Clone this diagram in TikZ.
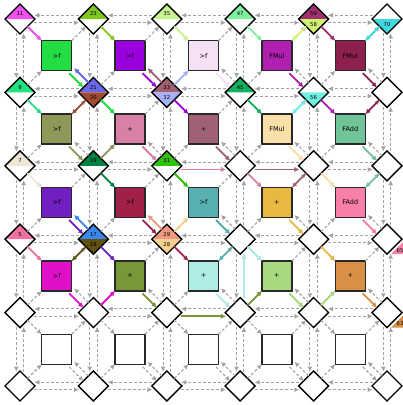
\documentclass[tikz,border=0pt]{standalone}
\usepackage{fontspec}
\setmainfont{DejaVu Sans}
\usetikzlibrary{shapes.geometric,arrows.meta,calc}
\definecolor{glc}{HTML}{A3A3A3}
\definecolor{edge}{HTML}{282828}
% PE colours
\definecolor{q00}{HTML}{22DD44}\definecolor{q10}{HTML}{9900DD}\definecolor{q20}{HTML}{F5E1F5}
\definecolor{q30}{HTML}{B020B0}\definecolor{q40}{HTML}{8E2050}
\definecolor{q01}{HTML}{8E9858}\definecolor{q11}{HTML}{D880A8}\definecolor{q21}{HTML}{A06078}
\definecolor{q31}{HTML}{F8E0A8}\definecolor{q41}{HTML}{70C498}
\definecolor{q02}{HTML}{7020C0}\definecolor{q12}{HTML}{A02048}\definecolor{q22}{HTML}{58B0B0}
\definecolor{q32}{HTML}{E8B840}\definecolor{q42}{HTML}{F880A8}
\definecolor{q03}{HTML}{E010C8}\definecolor{q13}{HTML}{789838}\definecolor{q23}{HTML}{B0ECE6}
\definecolor{q33}{HTML}{A8D880}\definecolor{q43}{HTML}{D89048}
% switch label colours
\definecolor{c11}{HTML}{F050F0}\definecolor{c23}{HTML}{80C820}\definecolor{c35}{HTML}{C8F490}
\definecolor{c47}{HTML}{80F0A0}\definecolor{c59}{HTML}{A03070}\definecolor{c58}{HTML}{D0F070}
\definecolor{c70}{HTML}{40D8E0}\definecolor{c9}{HTML}{20E080}\definecolor{c21}{HTML}{6868E8}
\definecolor{c20}{HTML}{A04A30}\definecolor{c33}{HTML}{A06070}\definecolor{c32}{HTML}{A8B0F8}
\definecolor{c45}{HTML}{10B060}\definecolor{c56}{HTML}{70F0E0}\definecolor{c7}{HTML}{F0E6D8}
\definecolor{c19}{HTML}{008040}\definecolor{c31}{HTML}{30C010}\definecolor{c5}{HTML}{F070A0}
\definecolor{c17}{HTML}{3888F0}\definecolor{c16}{HTML}{605010}\definecolor{c29}{HTML}{F09880}
\definecolor{c28}{HTML}{F8D090}
\tikzset{
  sw/.style={diamond, minimum width=30pt, minimum height=30pt, inner sep=0pt, outer sep=0pt, fill=white},
  pe/.style={rectangle, draw=edge, line width=1.3pt, minimum size=30pt, inner sep=0pt, outer sep=0pt,
    font=\fontsize{6.5}{6.5}\selectfont},
  lab/.style={inner sep=0pt, font=\fontsize{5.3}{5.3}\selectfont},
  gla/.style={draw=glc, line width=1.1pt, dash pattern=on 3pt off 2pt, -{Latex[length=5pt,width=5pt]}},
  ca/.style={draw=#1, line width=1.8pt, -{Latex[length=5pt,width=5pt]}},
  sh/.style={shorten <=3pt, shorten >=3pt}
}
\newcommand\tophalf[3]{\fill[#2] (#1.west) -- (#1.north) -- (#1.east) -- cycle;
  \node[lab] (#1t) at ($(#1.center)+(0,-5)$) {#3};}
\newcommand\bothalf[3]{\fill[#2] (#1.west) -- (#1.south) -- (#1.east) -- cycle;
  \node[lab] (#1b) at ($(#1.center)+(0,5.5)$) {#3};}
\newcommand\inTL[3]{\draw[ca=#3] (#1.-45) -- (#2.north west);}
\newcommand\inTR[3]{\draw[ca=#3] (#1.-135) -- (#2.north east);}
\newcommand\inBL[3]{\draw[ca=#3] (#1.45) -- (#2.south west);}
\newcommand\inBR[3]{\draw[ca=#3] ($(#1.135)+(2.5,-2.5)$) -- ($(#2.south east)+(2.5,-2.5)$);}
\newcommand\outBR[3]{\draw[ca=#3] ($(#1.south east)+(-2.5,2.5)$) -- ($(#2.135)+(-2.5,2.5)$);}
\newcommand\hR[3]{\draw[ca=#3,sh] (#1.-18) -- (#2.198);}
\newcommand\vU[3]{\draw[ca=#3,sh] (#1.72) -- (#2.-72);}
\begin{document}
\begin{tikzpicture}[x=1pt,y=-1pt]
\useasboundingbox (0,0) rectangle (403,405);
% switches
\foreach \i in {0,...,5}{\foreach \j in {0,...,5}{
  \node[sw] (d\i\j) at ({20+73.4*\i},{19+73.4*\j}) {};
}}
% PEs
\foreach \i/\j/\c/\t in {0/0/q00/{>f},1/0/q10/{>f},2/0/q20/{>f},3/0/q30/FMul,4/0/q40/FMul,
  0/1/q01/{>f},1/1/q11/+,2/1/q21/+,3/1/q31/FMul,4/1/q41/FAdd,
  0/2/q02/{>f},1/2/q12/{>f},2/2/q22/{>f},3/2/q32/+,4/2/q42/FAdd,
  0/3/q03/{>f},1/3/q13/+,2/3/q23/+,3/3/q33/+,4/3/q43/+,
  0/4/white/{},1/4/white/{},2/4/white/{},3/4/white/{},4/4/white/{}}{
  \node[pe, fill=\c] (p\i\j) at ({56.7+73.4*\i},{55.7+73.4*\j}) {\t};
}
% switch halves
\tophalf{d00}{c11}{11}\tophalf{d10}{c23}{23}\tophalf{d20}{c35}{35}\tophalf{d30}{c47}{47}
\tophalf{d40}{c59}{59}\bothalf{d40}{c58}{58}\bothalf{d50}{c70}{70}
\tophalf{d01}{c9}{9}\tophalf{d11}{c21}{21}\bothalf{d11}{c20}{20}
\tophalf{d21}{c33}{33}\bothalf{d21}{c32}{32}\tophalf{d31}{c45}{45}\bothalf{d41}{c56}{56}
\tophalf{d02}{c7}{7}\tophalf{d12}{c19}{19}\tophalf{d22}{c31}{31}
\tophalf{d03}{c5}{5}\tophalf{d13}{c17}{17}\bothalf{d13}{c16}{16}
\tophalf{d23}{c29}{29}\bothalf{d23}{c28}{28}
% output tags
\fill[q42] ($(d53.center)+(4,15)$) -- ($(d53.center)+(16,15)$) -- ($(d53.center)+(16,3)$) -- cycle;
\node[lab] (t65) at ($(d53.center)+(13,11)$) {65};
\fill[q43] ($(d54.center)+(4,15)$) -- ($(d54.center)+(16,15)$) -- ($(d54.center)+(16,3)$) -- cycle;
\node[lab] (t63) at ($(d54.center)+(13,11)$) {63};
% switch outlines
\foreach \i in {0,...,5}{\foreach \j in {0,...,5}{
  \draw[line width=1.4pt, line join=miter] (d\i\j.north) -- (d\i\j.east) -- (d\i\j.south) -- (d\i\j.west) -- cycle;
}}
% grey links between switches
\foreach \i in {0,...,4}{\foreach \j in {0,...,5}{
  \pgfmathtruncatemacro\k{\i+1}
  \draw[gla,sh] (d\k\j.162) -- (d\i\j.18);
  \draw[gla,sh] (d\i\j.-18) -- (d\k\j.198);
}}
\foreach \i in {0,...,5}{\foreach \j in {0,...,4}{
  \pgfmathtruncatemacro\l{\j+1}
  \draw[gla,sh] (d\i\j.-108) -- (d\i\l.108);
  \draw[gla,sh] (d\i\l.72) -- (d\i\j.-72);
}}
% grey links PE <-> switch
\foreach \i in {0,...,4}{\foreach \j in {0,...,4}{
  \pgfmathtruncatemacro\k{\i+1}\pgfmathtruncatemacro\l{\j+1}
  \draw[gla] (d\i\j.-45) -- (p\i\j.north west);
  \draw[gla] (p\i\j.north east) -- (d\k\j.-135);
  \draw[gla] (d\i\l.45) -- (p\i\j.south west);
  \draw[gla] ($(p\i\j.south east)+(-2.5,2.5)$) -- ($(d\k\l.135)+(-2.5,2.5)$);
  \draw[gla] ($(d\k\l.135)+(2.5,-2.5)$) -- ($(p\i\j.south east)+(2.5,-2.5)$);
}}
% routed values
\inTL{d00}{p00}{c11}
\outBR{p00}{d11}{q00}
\inBR{d11}{p00}{c21}
\inTL{d10}{p10}{c23}
\inTL{d01}{p01}{c9}
\inTR{d11}{p01}{c20}
\inTL{d11}{p11}{q00}
\inTL{d20}{p20}{c35}
\outBR{p10}{d21}{q10}
\inBR{d21}{p10}{c33}
\inBL{d21}{p20}{c32}
\inTL{d21}{p21}{q10}
\outBR{p20}{d31}{q20}
\inTL{d30}{p30}{c47}
\inTL{d31}{p31}{c45}
\inTR{d40}{p30}{c58}
\inTL{d40}{p40}{c59}
\inTR{d50}{p40}{c70}
\outBR{p30}{d41}{q30}
\inTR{d41}{p31}{c56}
\inTL{d41}{p41}{q30}
\outBR{p40}{d51}{q40}
\inTR{d51}{p41}{q40}
\outBR{p01}{d12}{q01}
\inBL{d12}{p11}{q01}
\inTL{d02}{p02}{c7}
\inTL{d12}{p12}{c19}
\outBR{p02}{d13}{q02}
\inBR{d13}{p02}{c17}
\inTL{d03}{p03}{c5}
\inTR{d13}{p03}{c16}
\inTL{d13}{p13}{q02}
\outBR{p11}{d22}{q11}
\inTL{d22}{p22}{c31}
\hR{d22}{d32}{q11}
\outBR{p21}{d32}{q21}
\inTL{d32}{p32}{q11}
\outBR{p12}{d23}{q12}
\inBR{d23}{p12}{c29}
\inBL{d23}{p22}{c28}
\inTL{d23}{p23}{q12}
\outBR{p22}{d33}{q22}
\inTR{d33}{p23}{q22}
\inTL{d33}{p33}{q23}
\vU{d34}{d33}{q23}
\outBR{p23}{d34}{q23}
\outBR{p31}{d42}{q31}
\hR{d32}{d42}{q21}
\inTR{d42}{p32}{q21}
\inTL{d42}{p42}{q31}
\outBR{p41}{d52}{q41}
\inTR{d52}{p42}{q41}
\outBR{p32}{d43}{q32}
\inTL{d43}{p43}{q32}
\outBR{p42}{d53}{q42}
\outBR{p03}{d14}{q03}
\inBL{d14}{p13}{q03}
\outBR{p13}{d24}{q13}
\hR{d24}{d34}{q13}
\inBL{d34}{p33}{q13}
\outBR{p33}{d44}{q33}
\inBL{d44}{p43}{q33}
\outBR{p43}{d54}{q43}
\end{tikzpicture}
\end{document}
